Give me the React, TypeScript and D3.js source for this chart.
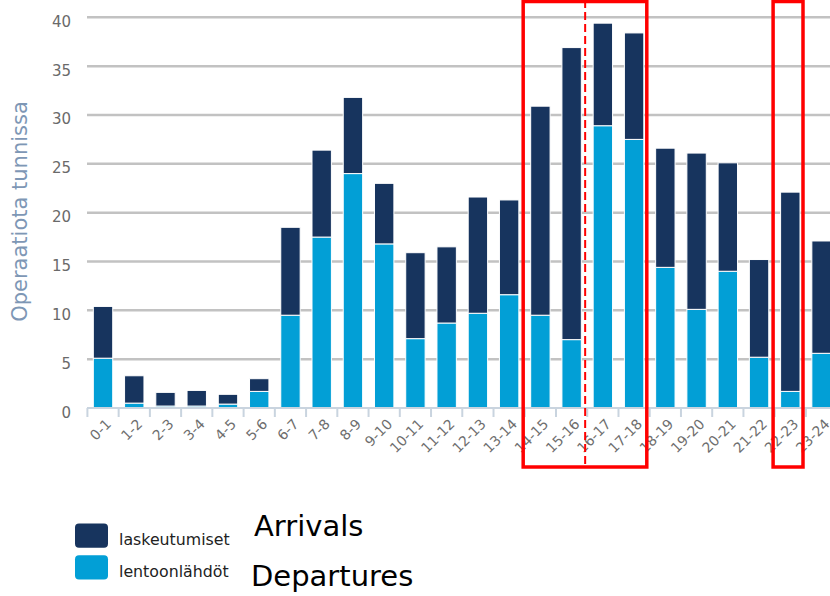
import React from "react";
import * as d3 from "d3";

const hours = ["0-1","1-2","2-3","3-4","4-5","5-6","6-7","7-8","8-9","9-10","10-11","11-12","12-13","13-14","14-15","15-16","16-17","17-18","18-19","19-20","20-21","21-22","22-23","23-24"];
const departures = [5.1, 0.5, 0.2, 0.2, 0.4, 1.7, 9.5, 17.5, 24.0, 16.8, 7.1, 8.7, 9.7, 11.6, 9.5, 7.0, 28.9, 27.5, 14.4, 10.1, 14.0, 5.2, 1.7, 5.6];
const arrivals = [5.3, 2.8, 1.4, 1.6, 1.0, 1.3, 9.0, 8.9, 7.8, 6.2, 8.8, 7.8, 11.9, 9.7, 21.4, 29.9, 10.5, 10.9, 12.2, 16.0, 11.1, 10.0, 20.4, 11.5];
const yTicks = [0, 5, 10, 15, 20, 25, 30, 35, 40];
const legendNames = ["laskeutumiset", "lentoonlähdöt"];
const englishNames = ["Arrivals", "Departures"];
const highlightGroups = [["14-15", "17-18"], ["22-23", "22-23"]];
const dividerAt = "16-17";
const yTitle = "Operaatiota tunnissa";

const DARK = "#17345e";
const LIGHT = "#029fd6";
const FONT = "'DejaVu Sans', sans-serif";

export default function App() {
  const x = d3.scaleBand<string>().domain(hours).range([87.4, 87.4 + 24 * 31.24]).paddingInner(0.379).paddingOuter(0.1895);
  const y = d3.scaleLinear().domain([0, 40]).range([408, 17.3]);
  const table = hours.map((h, i) => ({ hour: h, dep: departures[i], arr: arrivals[i] }));
  const stack = d3.stack<any>().keys(["dep", "arr"])(table);
  const colors = [LIGHT, DARK];
  const step = x.step();
  const bw = x.bandwidth();
  const boundaries = hours.map((h) => (x(h) as number) - (step - bw) / 2);
  const redTop = 1.5;
  const redBottom = 467;

  return (
    <div style={{ position: "fixed", left: 0, top: 0 }}>
      <svg width={830} height={596} style={{ display: "block", background: "#fff" }}>
        {yTicks.filter((t) => t > 0).map((t) => (
          <line key={t} x1={87} x2={830} y1={y(t)} y2={y(t)} stroke="#c2c2c2" strokeWidth={2.5} />
        ))}
        {yTicks.map((t) => (
          <text key={"yl" + t} x={71} y={y(t) + 9.5} textAnchor="end" fontFamily={FONT} fontSize={15} fill="#6a6a6a">{t}</text>
        ))}
        <text transform={`translate(27,211.5) rotate(-90)`} textAnchor="middle" fontFamily={FONT} fontSize={21} fill="#7e97b5">{yTitle}</text>
        {stack.map((layer, li) => (
          <g key={li} fill={colors[li]}>
            {layer.map((d, i) => (
              <rect key={i} x={x(hours[i])} y={y(d[1])} width={bw} height={y(d[0]) - y(d[1])} stroke="#fff" strokeWidth={1} />
            ))}
          </g>
        ))}
        <line x1={87} x2={830} y1={y(0)} y2={y(0)} stroke="#c9d4df" strokeWidth={2} />
        {boundaries.map((b, i) => (
          <line key={"tk" + i} x1={b} x2={b} y1={y(0)} y2={y(0) + 9} stroke="#c9d4df" strokeWidth={2} />
        ))}
        {hours.map((h) => {
          const cx = (x(h) as number) + bw / 2 + 9;
          return (
            <text key={"xl" + h} transform={`translate(${cx},425) rotate(-45)`} textAnchor="end" fontFamily={FONT} fontSize={14} fill="#6e6e6e">{h}</text>
          );
        })}
        {highlightGroups.map(([a, b], i) => {
          const left = (x(a) as number) - 7.5;
          const right = (x(b) as number) + bw + 3;
          return (
            <rect key={"hl" + i} x={left} y={redTop} width={right - left} height={redBottom - redTop} fill="none" stroke="#ff0000" strokeWidth={3.5} />
          );
        })}
        <line x1={(x(dividerAt) as number) - 8} x2={(x(dividerAt) as number) - 8} y1={0} y2={redBottom} stroke="#ff0000" strokeWidth={2} strokeDasharray="8 4" />
        {legendNames.map((n, i) => (
          <g key={"lg" + i}>
            <rect x={75} y={523.5 + i * 31.7} width={33} height={24.3} rx={4} fill={i === 0 ? DARK : LIGHT} />
            <text x={119} y={544.5 + i * 32.5} fontFamily={FONT} fontSize={15.8} fill="#222">{n}</text>
          </g>
        ))}
        {englishNames.map((n, i) => (
          <text key={"en" + i} x={i === 0 ? 254 : 251} y={536 + i * 50} fontFamily={FONT} fontSize={29} fill="#000">{n}</text>
        ))}
      </svg>
    </div>
  );
}
